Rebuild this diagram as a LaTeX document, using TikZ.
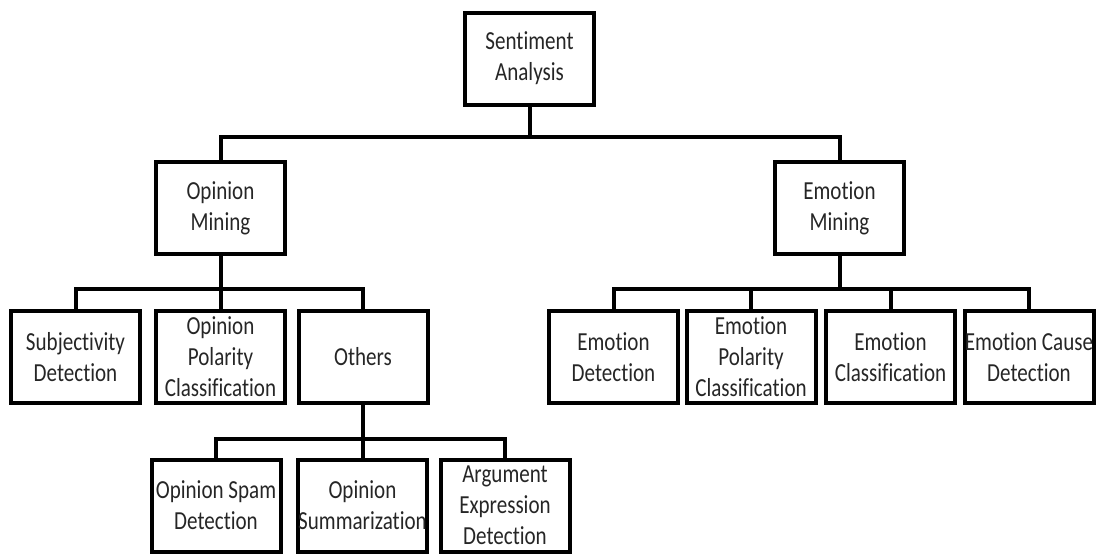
\documentclass[tikz,border=0pt]{standalone}
\usepackage{fontspec}
\setmainfont{Carlito}[FakeStretch=0.81, Ligatures=NoCommon]
\usepackage{tikz}
\usetikzlibrary{positioning}

\begin{document}
\begin{tikzpicture}[y=-1pt,x=1pt,
	box/.style={draw, line width=4pt, minimum width=129pt, minimum height=92pt, inner sep=0pt, align=center, text=black!85, font=\fontsize{26}{31}\selectfont},
	link/.style={line width=4pt}]
	\newcommand\Link[3]{\draw[link] (#1.south) -- ++(0,#3) -| (#2.north);}

	\useasboundingbox (0,0) rectangle (1097,554);

	\node[box] (sa) at (529.5,58.5) {Sentiment\\Analysis};
	\node[box] (om) at (220.5,208) {Opinion\\Mining};
	\node[box] (em) at (839.5,208) {Emotion\\Mining};

	\node[box] (subj) at (75.5,357) {Subjectivity\\Detection};
	\node[box] (opol) at (220.5,357) {Opinion\\Polarity\\Classification};
	\node[box] (oth) at (363,357) {Others};

	\node[box] (ed) at (613.5,357) {Emotion\\Detection};
	\node[box] (epol) at (751,357) {Emotion\\Polarity\\Classification};
	\node[box] (ecl) at (890.5,357) {Emotion\\Classification};
	\node[box] (ecs) at (1029,357) {Emotion Cause\\Detection};

	\node[box] (spam) at (216,505.5) {Opinion Spam\\Detection};
	\node[box] (summ) at (362.5,505.5) {Opinion\\Summarization};
	\node[box] (arg) at (505,505.5) {Argument\\Expression\\Detection};

	\Link{sa}{om}{30}
	\Link{sa}{em}{30}

	\Link{om}{subj}{33}
	\Link{om}{opol}{33}
	\Link{om}{oth}{33}

	\Link{em}{ed}{33}
	\Link{em}{epol}{33}
	\Link{em}{ecl}{33}
	\Link{em}{ecs}{33}

	\Link{oth}{spam}{34}
	\Link{oth}{summ}{34}
	\Link{oth}{arg}{34}

\end{tikzpicture}
\end{document}
